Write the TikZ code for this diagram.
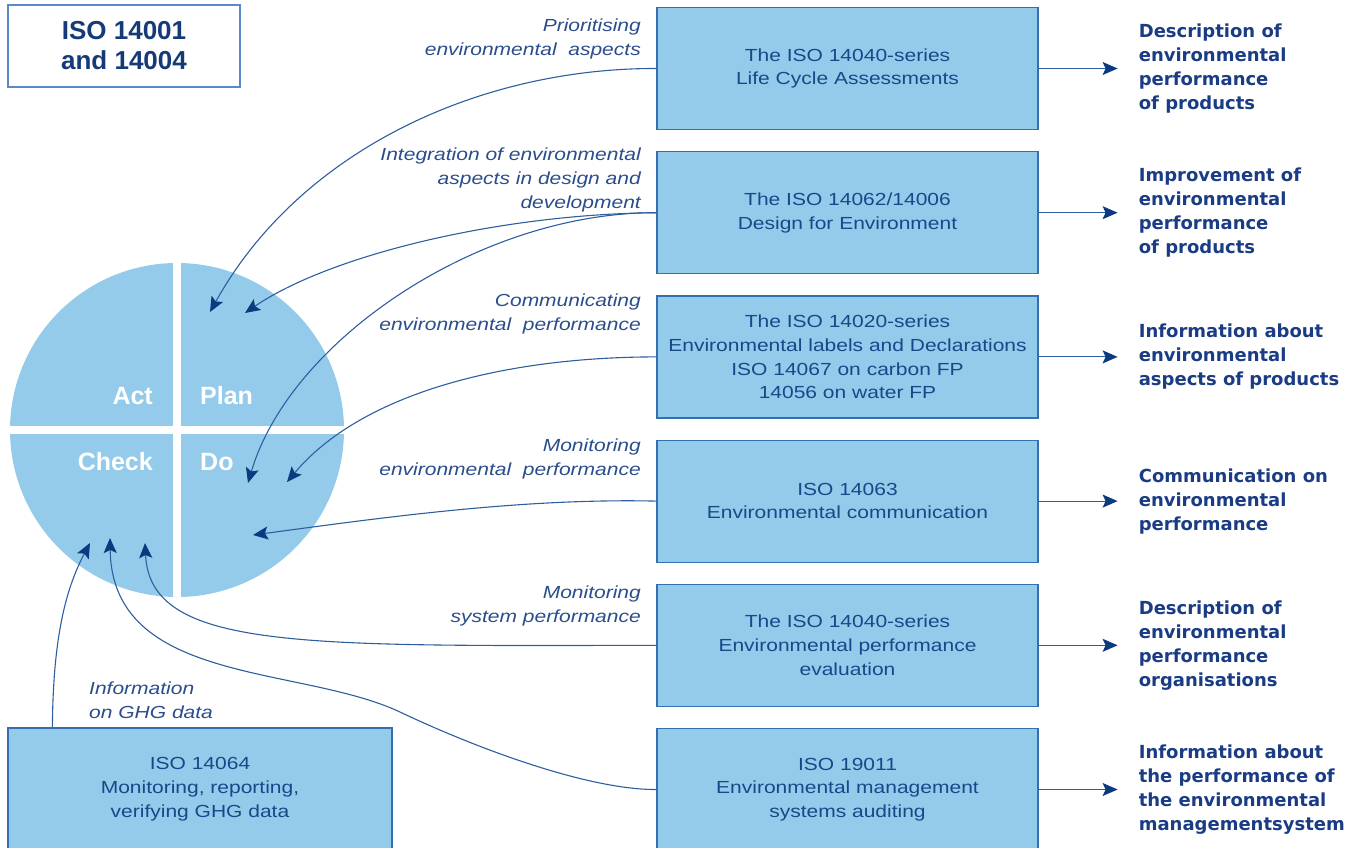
\documentclass[tikz,border=0pt]{standalone}
\usepackage{fontspec}
\setmainfont{Liberation Sans}
\newfontfamily\stdfont{Liberation Sans}[FakeStretch=1.2]
\newfontfamily\outfont{DejaVu Sans}
\usetikzlibrary{arrows.meta,positioning}

\definecolor{pdcablue}{HTML}{95CBEA}
\definecolor{frameblue}{HTML}{3570AE}
\definecolor{titleframe}{HTML}{5A88C8}
\definecolor{linkblue}{HTML}{2D5E9E}
\definecolor{tipblue}{HTML}{0B3A80}
\definecolor{boxtext}{HTML}{17488A}
\definecolor{labtext}{HTML}{2A4D8C}
\definecolor{outtext}{HTML}{1A3C85}
\definecolor{titletext}{HTML}{143A78}

\tikzset{
  stdbox/.style={draw=frameblue, line width=1.2pt, fill=pdcablue,
    minimum width=381pt, minimum height=122pt, inner sep=0pt,
    align=center, text=boxtext, font=\stdfont\fontsize{17.5}{23.7}\selectfont},
  note/.style={anchor=east, align=right, inner sep=0pt, text=labtext,
    font=\stdfont\itshape\fontsize{17.5}{24}\selectfont},
  result/.style={anchor=west, align=left, inner sep=0pt, text=outtext,
    font=\outfont\bfseries\fontsize{18}{24}\selectfont},
  phase/.style={inner sep=0pt, text=white, font=\bfseries\fontsize{25}{30}\selectfont},
  feed/.style={draw=linkblue, line width=1.1pt,
    -{Stealth[length=15pt,width=13pt,inset=3pt,color=tipblue]}},
  outarrow/.style={feed, shorten >=21pt}
}

\begin{document}
\begin{tikzpicture}[x=1pt,y=-1pt]
  \useasboundingbox (0,0) rectangle (1354,848);

  % management system
  \node[draw=titleframe, line width=1.2pt, fill=white, minimum width=232pt,
    minimum height=82pt, align=center, text=titletext,
    font=\bfseries\fontsize{26}{30}\selectfont] (iso) at (124,46) {ISO 14001\\and 14004};

  % PDCA circle
  \node[circle, fill=pdcablue, minimum size=334pt, inner sep=0pt] (pdca) at (177,430) {};
  \draw[white, line width=8pt] (pdca.north) -- (pdca.south);
  \draw[white, line width=8pt] (pdca.west) -- (pdca.east);
  \node[phase, anchor=east] (act) at (153,396) {Act};
  \node[phase, anchor=west] (plan) at (200,396) {Plan};
  \node[phase, anchor=east] (check) at (153,462) {Check};
  \node[phase, anchor=west] (do) at (200,462) {Do};

  % standards
  \node[stdbox] (lca) at (847.5,68.5) {The ISO 14040-series\\Life Cycle Assessments};
  \node[stdbox, below=21pt of lca] (dfe) {The ISO 14062/14006\\Design for Environment};
  \node[stdbox, below=21pt of dfe] (lbl) {The ISO 14020-series\\Environmental labels and Declarations\\ISO 14067 on carbon FP\\14056 on water FP};
  \node[stdbox, below=21pt of lbl] (com) {ISO 14063\\Environmental communication};
  \node[stdbox, below=21pt of com] (epe) {The ISO 14040-series\\Environmental performance\\evaluation};
  \node[stdbox, below=21pt of epe] (audit) {ISO 19011\\Environmental management\\systems auditing};
  \node[stdbox, minimum width=384pt] (ghg) at (200,789) {ISO 14064\\Monitoring, reporting,\\verifying GHG data};

  % results
  \node[result, right=100pt of lca] (out1) {Description of\\environmental\\performance\\of products};
  \node[result, right=100pt of dfe] (out2) {Improvement of\\environmental\\performance\\of products};
  \node[result, right=100pt of lbl] (out3) {Information about\\environmental\\aspects of products};
  \node[result, right=100pt of com] (out4) {Communication on\\environmental\\performance};
  \node[result, right=100pt of epe] (out5) {Description of\\environmental\\performance\\organisations};
  \node[result, right=100pt of audit] (out6) {Information about\\the performance of\\the environmental\\managementsystem};

  \draw[outarrow] (lca.east) -- (out1.west);
  \draw[outarrow] (dfe.east) -- (out2.west);
  \draw[outarrow] (lbl.east) -- (out3.west);
  \draw[outarrow] (com.east) -- (out4.west);
  \draw[outarrow] (epe.east) -- (out5.west);
  \draw[outarrow] (audit.east) -- (out6.west);

  % link labels
  \node[note] (n1) at (641,39) {Prioritising\\environmental~~aspects};
  \node[note] (n2) at (641,180) {Integration of environmental\\aspects in design and\\development};
  \node[note] (n3) at (641,314) {Communicating\\environmental~~performance};
  \node[note] (n4) at (641,459) {Monitoring\\environmental~~performance};
  \node[note] (n5) at (641,606) {Monitoring\\system performance};
  \node[note, anchor=west, align=left] (n6) at (89,700) {Information\\on GHG data};

  % arrow ends in the circle
  \coordinate (p1) at (210,312);
  \coordinate (p2) at (245,313);
  \coordinate (d1) at (248,483);
  \coordinate (d2) at (287,482);
  \coordinate (d3) at (253,535);
  \coordinate (c1) at (145,543);
  \coordinate (c2) at (110,538);
  \coordinate (c3) at (90,543);

  \draw[feed] (lca.west) .. controls (480,68) and (300,150) .. (p1);
  \draw[feed] (dfe.west) .. controls (500,214) and (330,255) .. (p2);
  \draw[feed] (dfe.west) .. controls (480,212) and (290,340) .. (d1);
  \draw[feed] (lbl.west) .. controls (500,357) and (360,395) .. (d2);
  \draw[feed] (com.west) .. controls (520,498) and (380,518) .. (d3);
  \draw[feed] (epe.west) .. controls (300,646) and (150,650) .. (c1);
  \draw[feed] (audit.west) .. controls (590,790) and (480,750) .. (400,712)
    .. controls (300,665) and (112,685) .. (c2);
  \draw[feed] ([xshift=45pt]ghg.north west) .. controls (53,640) and (65,590) .. (c3);
\end{tikzpicture}
\end{document}
